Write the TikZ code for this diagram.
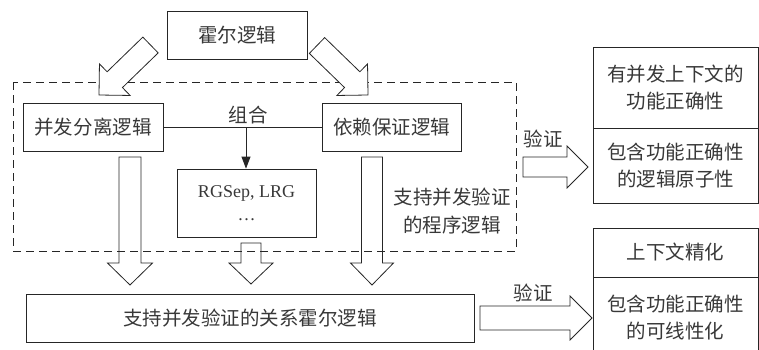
\documentclass[tikz,border=0pt]{standalone}
\usepackage{fontspec}
\setmainfont{Liberation Serif}
\newfontfamily\cjk{Noto Sans CJK SC}
\usetikzlibrary{calc,arrows.meta}
\tikzset{
  box/.style={draw=black!85, line width=0.8bp, inner sep=0pt, align=center,
    font=\cjk\fontsize{19.5bp}{27.5bp}\selectfont, text=black!78},
  lbl/.style={inner sep=0pt, align=center, font=\cjk\fontsize{19.5bp}{28bp}\selectfont, text=black!78},
  fat/.style={draw=black!85, line width=0.8bp, fill=white, line join=miter},
  thinline/.style={draw=black!85, line width=0.8bp},
  dashbox/.style={draw=black!85, line width=0.8bp, dash pattern=on 8bp off 5bp}
}
\newcommand\FatArrow[5]{%
  \coordinate (fh) at ($(#2)!#5!(#1)$);
  \draw[fat] ($(#1)!#3!90:(#2)$) -- ($(fh)!#3!90:(#2)$) -- ($(fh)!#4!90:(#2)$)
    -- (#2) -- ($(fh)!#4!-90:(#2)$) -- ($(fh)!#3!-90:(#2)$) -- ($(#1)!#3!-90:(#2)$) -- cycle;}
\begin{document}
\begin{tikzpicture}[x=1bp,y=-1bp]
\useasboundingbox (0,0) rectangle (759,349);
\clip (0,0) rectangle (759,349);

% boxes
\node[box, minimum width=140bp, minimum height=48bp] (hoare) at (237,35) {霍尔逻辑};
\node[box, minimum width=140bp, minimum height=48bp] (csl) at (93,127) {并发分离逻辑};
\node[box, minimum width=139bp, minimum height=48bp] (rg) at (391.5,127) {依赖保证逻辑};
\node[box, minimum width=139bp, minimum height=68bp, font=\fontsize{18bp}{26bp}\selectfont] (rgsep) at (246.5,203) {RGSep, LRG\\[-3bp]…};
\node[box, minimum width=448bp, minimum height=48bp] (rhl) at (250,318) {支持并发验证的关系霍尔逻辑};

\node[box, minimum width=165bp, minimum height=81bp] (r1) at (675.5,87.5) {有并发上下文的\\功能正确性};
\node[box, minimum width=165bp, minimum height=75bp] (r2) at (675.5,165.5) {包含功能正确性\\的逻辑原子性};
\node[box, minimum width=165bp, minimum height=49bp] (r3) at (675.5,252.5) {上下文精化};
\node[box, minimum width=165bp, minimum height=81bp] (r4) at (675.5,317.5) {包含功能正确性\\的可线性化};

% composition line and arrow
\draw[thinline] (csl.east) -- (rg.west);
\coordinate (cm) at (246,127);
\draw[thinline, -{Triangle[length=12bp,width=9bp]}] (cm) -- (cm |- rgsep.north);
\node[lbl] (zh) at (248,115) {组合};

% vertical fat arrows
\coordinate (d1S) at (130,157); \coordinate (d1E) at (130,285);
\coordinate (d2S) at (251,243); \coordinate (d2E) at (251,284);
\coordinate (d3S) at (372,157); \coordinate (d3E) at (372,285);
\FatArrow{d1S}{d1E}{11bp}{22.5bp}{22bp}
\FatArrow{d2S}{d2E}{10bp}{22bp}{21bp}
\FatArrow{d3S}{d3E}{10.5bp}{21.5bp}{22bp}

% dashed region
\draw[dashbox] (13,82) rectangle (516,251);
\node[lbl] (prog) at (452,211) {支持并发验证\\的程序逻辑};

% diagonal fat arrows
\coordinate (dlS) at (150.5,45); \coordinate (dlE) at (99,95);
\coordinate (drS) at (317,45.5); \coordinate (drE) at (368,95);
\FatArrow{dlS}{dlE}{11bp}{22bp}{22bp}
\FatArrow{drS}{drE}{11bp}{22bp}{22bp}

% verification arrows
\coordinate (v1S) at (523,167); \coordinate (v1E) at (588,167);
\coordinate (v2S) at (480,318); \coordinate (v2E) at (592,318);
\FatArrow{v1S}{v1E}{10bp}{21bp}{21bp}
\FatArrow{v2S}{v2E}{12bp}{22bp}{22bp}
\node[lbl] (yz1) at (543,139) {验证};
\node[lbl] (yz2) at (533,293) {验证};
\end{tikzpicture}
\end{document}
